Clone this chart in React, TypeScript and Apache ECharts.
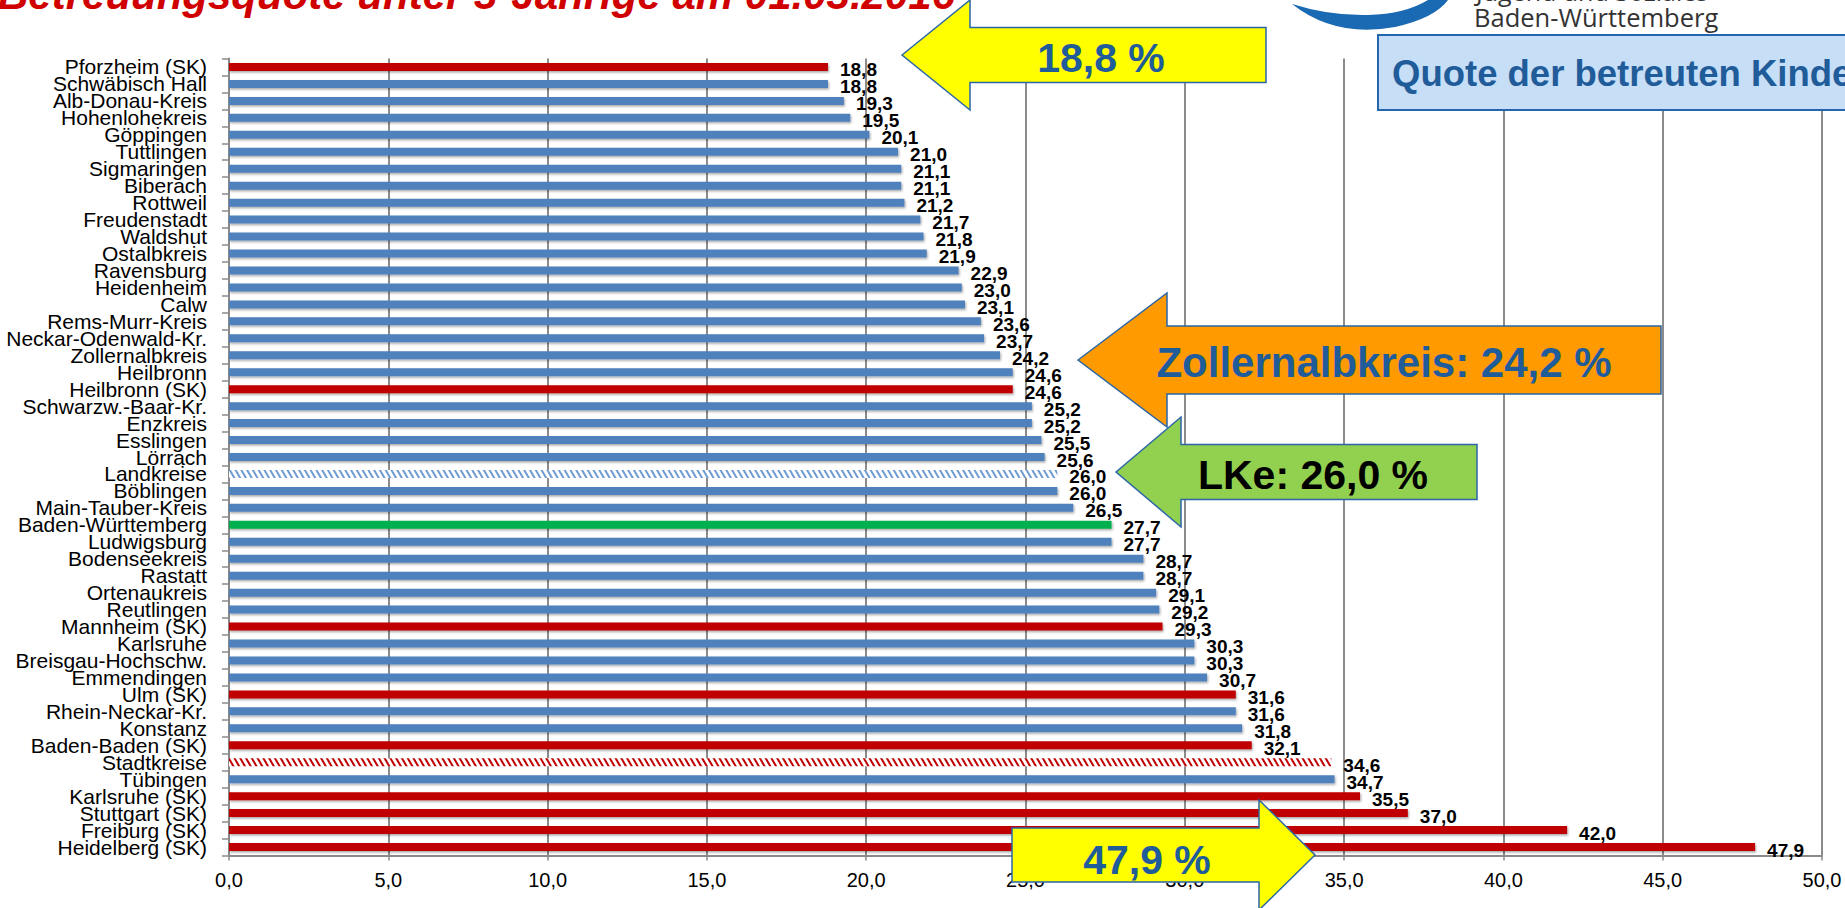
import React, { useEffect, useRef } from "react";
import * as echarts from "echarts";

const categories: string[] = [
  "Pforzheim (SK)", "Schwäbisch Hall", "Alb-Donau-Kreis", "Hohenlohekreis", "Göppingen",
  "Tuttlingen", "Sigmaringen", "Biberach", "Rottweil", "Freudenstadt", "Waldshut",
  "Ostalbkreis", "Ravensburg", "Heidenheim", "Calw", "Rems-Murr-Kreis",
  "Neckar-Odenwald-Kr.", "Zollernalbkreis", "Heilbronn", "Heilbronn (SK)",
  "Schwarzw.-Baar-Kr.", "Enzkreis", "Esslingen", "Lörrach", "Landkreise", "Böblingen",
  "Main-Tauber-Kreis", "Baden-Württemberg", "Ludwigsburg", "Bodenseekreis", "Rastatt",
  "Ortenaukreis", "Reutlingen", "Mannheim (SK)", "Karlsruhe", "Breisgau-Hochschw.",
  "Emmendingen", "Ulm (SK)", "Rhein-Neckar-Kr.", "Konstanz", "Baden-Baden (SK)",
  "Stadtkreise", "Tübingen", "Karlsruhe (SK)", "Stuttgart (SK)", "Freiburg (SK)",
  "Heidelberg (SK)",
];

const values: number[] = [
  18.8, 18.8, 19.3, 19.5, 20.1, 21.0, 21.1, 21.1, 21.2, 21.7, 21.8, 21.9, 22.9, 23.0,
  23.1, 23.6, 23.7, 24.2, 24.6, 24.6, 25.2, 25.2, 25.5, 25.6, 26.0, 26.0, 26.5, 27.7,
  27.7, 28.7, 28.7, 29.1, 29.2, 29.3, 30.3, 30.3, 30.7, 31.6, 31.6, 31.8, 32.1, 34.6,
  34.7, 35.5, 37.0, 42.0, 47.9,
];

// LK = Landkreis, SK = Stadtkreis, BW = Land, LKE / SKE = averages (hatched)
const groups: string[] = [
  "SK", "LK", "LK", "LK", "LK", "LK", "LK", "LK", "LK", "LK", "LK", "LK", "LK", "LK",
  "LK", "LK", "LK", "LK", "LK", "SK", "LK", "LK", "LK", "LK", "LKE", "LK", "LK", "BW",
  "LK", "LK", "LK", "LK", "LK", "SK", "LK", "LK", "LK", "SK", "LK", "LK", "SK", "SKE",
  "LK", "SK", "SK", "SK", "SK",
];

const axisMin = 0;
const axisMax = 50;
const axisInterval = 5;

const titleText = "Betreuungsquote unter 3-Jährige am 01.03.2016";
const boxText = "Quote der betreuten Kinder unter 3 Jahren";
const calloutTop = "18,8 %";
const calloutZollern = "Zollernalbkreis: 24,2 %";
const calloutLKe = "LKe: 26,0 %";
const calloutBottom = "47,9 %";

const fmt = (v: number) => v.toFixed(1).replace(".", ",");

function itemFor(v: number, g: string) {
  const shadow = {
    shadowColor: "rgba(0,0,0,0.35)",
    shadowBlur: 2,
    shadowOffsetX: 1,
    shadowOffsetY: 1.5,
  };
  if (g === "LKE" || g === "SKE") {
    return {
      value: v,
      itemStyle: {
        color: "#FFFFFF",
        decal: {
          symbol: "rect",
          symbolSize: 1,
          color: g === "LKE" ? "#6E9BD1" : "#C00000",
          dashArrayX: [1, 0],
          dashArrayY: [2, 2.5],
          rotation: Math.PI / 3,
        },
      },
    };
  }
  const color = g === "SK" ? "#C00000" : g === "BW" ? "#00B050" : "#4F81BD";
  return { value: v, itemStyle: { color, ...shadow } };
}

function arrowLeft(tx: number, ty: number, hx: number, hh: number, bh: number, rx: number) {
  return [
    [tx, ty],
    [hx, ty - hh],
    [hx, ty - bh],
    [rx, ty - bh],
    [rx, ty + bh],
    [hx, ty + bh],
    [hx, ty + hh],
  ];
}

function arrowRight(tx: number, ty: number, hx: number, hh: number, bh: number, lx: number) {
  return [
    [tx, ty],
    [hx, ty + hh],
    [hx, ty + bh],
    [lx, ty + bh],
    [lx, ty - bh],
    [hx, ty - bh],
    [hx, ty - hh],
  ];
}

const logoPath =
  "M1292 4 Q1335 38 1395 27 Q1435 18 1448 0 L1428 0 Q1405 14 1368 15 Q1330 16 1292 4 Z";
echarts.graphic.registerShape("logo", echarts.graphic.extendPath(logoPath, {}));

export default function App() {
  const ref = useRef<HTMLDivElement>(null);
  useEffect(() => {
    if (!ref.current) return;
    const chart = echarts.init(ref.current, undefined, { renderer: "svg" });
    const data = values.map((v, i) => itemFor(v, groups[i]));
    const arrowStroke = "#2A66A8";
    chart.setOption({
      animation: false,
      backgroundColor: "#FFFFFF",
      textStyle: { fontFamily: "'Liberation Sans', Arial, sans-serif" },
      grid: { left: 229, right: 23, top: 58.5, bottom: 52.5, containLabel: false },
      xAxis: {
        type: "value",
        min: axisMin,
        max: axisMax,
        interval: axisInterval,
        axisLine: { show: true, lineStyle: { color: "#8A8A8A", width: 2 } },
        axisTick: { show: true, length: 5, lineStyle: { color: "#8A8A8A", width: 1.5 } },
        axisLabel: {
          formatter: (v: number) => fmt(v),
          fontSize: 20,
          color: "#000",
          margin: 14,
        },
        splitLine: { show: true, lineStyle: { color: "#8C8C8C", width: 2 } },
      },
      yAxis: {
        type: "category",
        data: categories,
        inverse: true,
        axisLine: { show: true, lineStyle: { color: "#8A8A8A", width: 2 } },
        axisTick: { show: true, length: 7, lineStyle: { color: "#8A8A8A", width: 1.5 } },
        axisLabel: { interval: 0, fontSize: 21, color: "#000", margin: 22 },
      },
      series: [
        {
          type: "bar",
          data,
          barWidth: 8,
          label: {
            show: true,
            position: "right",
            distance: 12,
            offset: [0, 3],
            fontSize: 19,
            fontWeight: "bold",
            color: "#000",
            formatter: (p: any) => fmt(p.value as number),
          },
        },
      ],
      graphic: {
        elements: [
          {
            type: "text",
            x: -2,
            y: 15,
            z: 100,
            style: {
              text: titleText,
              font: "italic bold 42px 'Liberation Sans', Arial, sans-serif",
              fill: "#D00000",
              align: "left",
              verticalAlign: "bottom",
            },
          },
          {
            type: "logo",
            x: 0,
            y: 0,
            z: 100,
            style: { fill: "#1A69B3" },
          },
          {
            type: "text",
            x: 1476,
            y: 3,
            z: 100,
            style: {
              text: "Jugend und Soziales",
              font: "25px 'Open Sans', sans-serif",
              fill: "#333",
              align: "left",
              verticalAlign: "bottom",
            },
          },
          {
            type: "text",
            x: 1474,
            y: 30,
            z: 100,
            style: {
              text: "Baden-Württemberg",
              font: "25.5px 'Open Sans', sans-serif",
              fill: "#333",
              align: "left",
              verticalAlign: "bottom",
            },
          },
          {
            type: "rect",
            z: 100,
            shape: { x: 1378, y: 35, width: 600, height: 75 },
            style: { fill: "#C6DEF6", stroke: "#2565AE", lineWidth: 2 },
          },
          {
            type: "text",
            x: 1392,
            y: 73,
            z: 101,
            style: {
              text: boxText,
              font: "bold 36.5px 'Liberation Sans', Arial, sans-serif",
              fill: "#1F5C99",
              align: "left",
              verticalAlign: "middle",
            },
          },
          {
            type: "polygon",
            z: 100,
            shape: { points: arrowLeft(902, 55, 970, 55, 27.5, 1266) },
            style: { fill: "#FFFF00", stroke: arrowStroke, lineWidth: 1.5 },
          },
          {
            type: "text",
            x: 1101,
            y: 58,
            z: 101,
            style: {
              text: calloutTop,
              font: "bold 41px 'Liberation Sans', Arial, sans-serif",
              fill: "#1F5C99",
              align: "center",
              verticalAlign: "middle",
            },
          },
          {
            type: "polygon",
            z: 100,
            shape: { points: arrowLeft(1078, 360, 1167, 67, 34, 1661) },
            style: { fill: "#FF9A00", stroke: arrowStroke, lineWidth: 1.5 },
          },
          {
            type: "text",
            x: 1384,
            y: 362,
            z: 101,
            style: {
              text: calloutZollern,
              font: "bold 42px 'Liberation Sans', Arial, sans-serif",
              fill: "#1F5C99",
              align: "center",
              verticalAlign: "middle",
            },
          },
          {
            type: "polygon",
            z: 100,
            shape: { points: arrowLeft(1116, 472, 1181, 55, 27.5, 1477) },
            style: { fill: "#92D050", stroke: arrowStroke, lineWidth: 1.5 },
          },
          {
            type: "text",
            x: 1313,
            y: 475,
            z: 101,
            style: {
              text: calloutLKe,
              font: "bold 41px 'Liberation Sans', Arial, sans-serif",
              fill: "#000000",
              align: "center",
              verticalAlign: "middle",
            },
          },
          {
            type: "polygon",
            z: 100,
            shape: { points: arrowRight(1315, 855, 1259, 55, 27, 1012) },
            style: { fill: "#FFFF00", stroke: arrowStroke, lineWidth: 1.5 },
          },
          {
            type: "text",
            x: 1147,
            y: 860,
            z: 101,
            style: {
              text: calloutBottom,
              font: "bold 41px 'Liberation Sans', Arial, sans-serif",
              fill: "#1F5C99",
              align: "center",
              verticalAlign: "middle",
            },
          },
        ],
      },
    });
    return () => chart.dispose();
  }, []);
  return (
    <div
      ref={ref}
      style={{ position: "absolute", left: 0, top: 0, width: 1845, height: 908 }}
    />
  );
}
